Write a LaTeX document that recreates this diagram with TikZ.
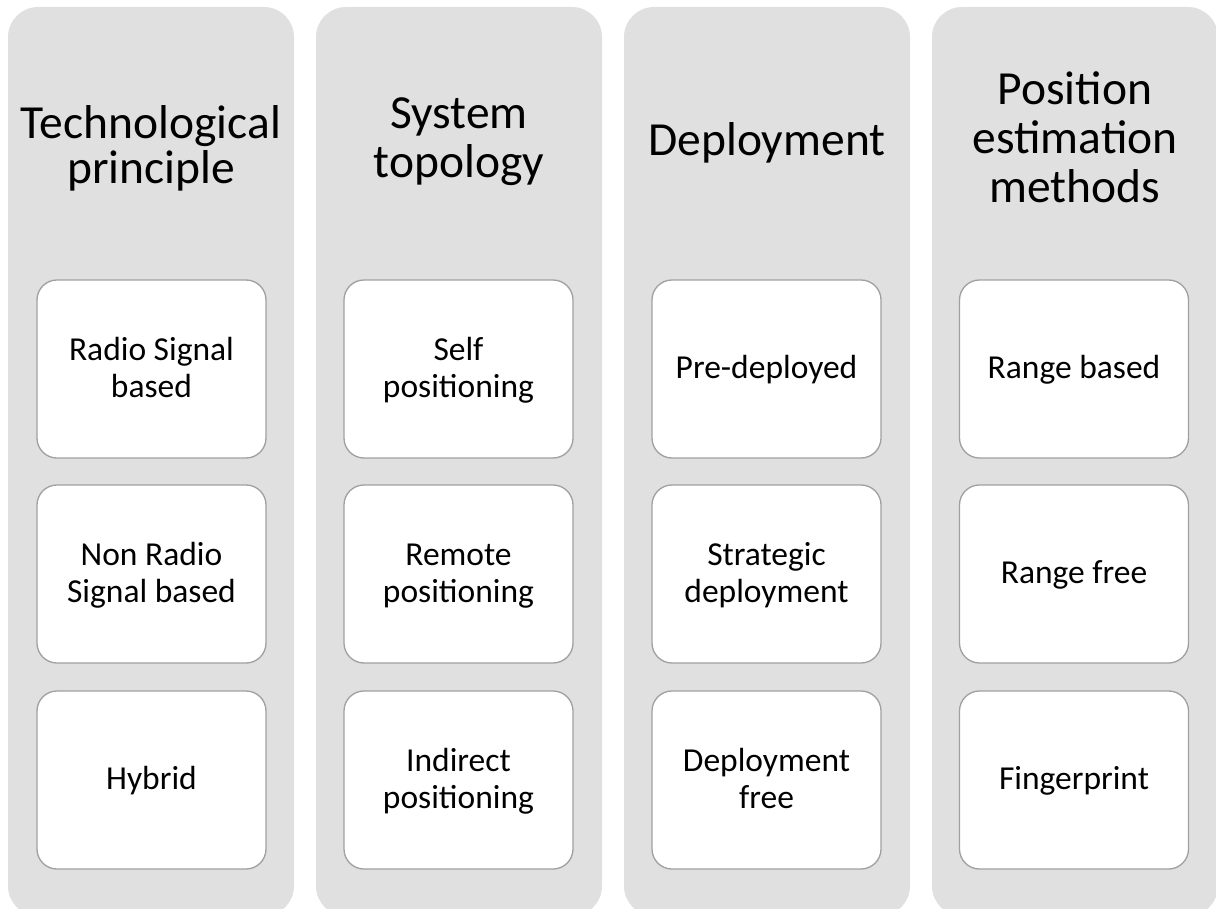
\documentclass[tikz,border=0pt]{standalone}
\usepackage{fontspec}
\setmainfont{Carlito}
\definecolor{colgray}{HTML}{E0E0E0}
\definecolor{boxgray}{HTML}{A0A0A0}
\begin{document}
\begin{tikzpicture}[x=1pt,y=-1pt,
  colbg/.style={fill=colgray, draw=none, rounded corners=30pt},
  itembox/.style={draw=boxgray, line width=1.3pt, fill=white, rounded corners=20pt,
    minimum width=229pt, minimum height=178pt, inner sep=0pt},
  ttl/.style={font=\fontsize{47.5}{50}\selectfont, anchor=base, inner sep=0pt},
  itm/.style={font=\fontsize{33.5}{37}\selectfont, anchor=base, inner sep=0pt}]
\useasboundingbox (0,0) rectangle (1216,909);
\clip (0,0) rectangle (1216,909);
% columns
\path[colbg] (8,7) rectangle (294,916);
\path[colbg] (316,7) rectangle (602,916);
\path[colbg] (624,7) rectangle (910,916);
\path[colbg] (932,7) rectangle (1218,916);
% titles
\node[ttl] (t1a) at (151,139) {Technological};
\node[ttl] (t1b) at (151,184) {principle};
\node[ttl] (t2a) at (459,129) {System};
\node[ttl] (t2b) at (459,178) {topology};
\node[ttl] (t3a) at (767,156) {Deployment};
\node[ttl] (t4a) at (1075,105) {Position};
\node[ttl] (t4b) at (1075,154) {estimation};
\node[ttl] (t4c) at (1075,203) {methods};
% item boxes
\node[itembox] (b11) at (151.5,369) {};
\node[itembox] (b12) at (151.5,574) {};
\node[itembox] (b13) at (151.5,780) {};
\node[itembox] (b21) at (458.5,369) {};
\node[itembox] (b22) at (458.5,574) {};
\node[itembox] (b23) at (458.5,780) {};
\node[itembox] (b31) at (766.5,369) {};
\node[itembox] (b32) at (766.5,574) {};
\node[itembox] (b33) at (766.5,780) {};
\node[itembox] (b41) at (1074,369) {};
\node[itembox] (b42) at (1074,574) {};
\node[itembox] (b43) at (1074,780) {};
% item texts
\node[itm] (l11a) at ([yshift=9pt]b11.center) {Radio Signal};
\node[itm] (l11b) at ([yshift=-28pt]b11.center) {based};
\node[itm] (l12a) at ([yshift=9pt]b12.center) {Non Radio};
\node[itm] (l12b) at ([yshift=-28pt]b12.center) {Signal based};
\node[itm] (l13a) at ([yshift=-9pt]b13.center) {Hybrid};
\node[itm] (l21a) at ([yshift=9pt]b21.center) {Self};
\node[itm] (l21b) at ([yshift=-28pt]b21.center) {positioning};
\node[itm] (l22a) at ([yshift=9pt]b22.center) {Remote};
\node[itm] (l22b) at ([yshift=-28pt]b22.center) {positioning};
\node[itm] (l23a) at ([yshift=9pt]b23.center) {Indirect};
\node[itm] (l23b) at ([yshift=-28pt]b23.center) {positioning};
\node[itm] (l31a) at ([yshift=-9pt]b31.center) {Pre-deployed};
\node[itm] (l32a) at ([yshift=9pt]b32.center) {Strategic};
\node[itm] (l32b) at ([yshift=-28pt]b32.center) {deployment};
\node[itm] (l33a) at ([yshift=9pt]b33.center) {Deployment};
\node[itm] (l33b) at ([yshift=-28pt]b33.center) {free};
\node[itm] (l41a) at ([yshift=-9pt]b41.center) {Range based};
\node[itm] (l42a) at ([yshift=-9pt]b42.center) {Range free};
\node[itm] (l43a) at ([yshift=-9pt]b43.center) {Fingerprint};
\end{tikzpicture}
\end{document}
